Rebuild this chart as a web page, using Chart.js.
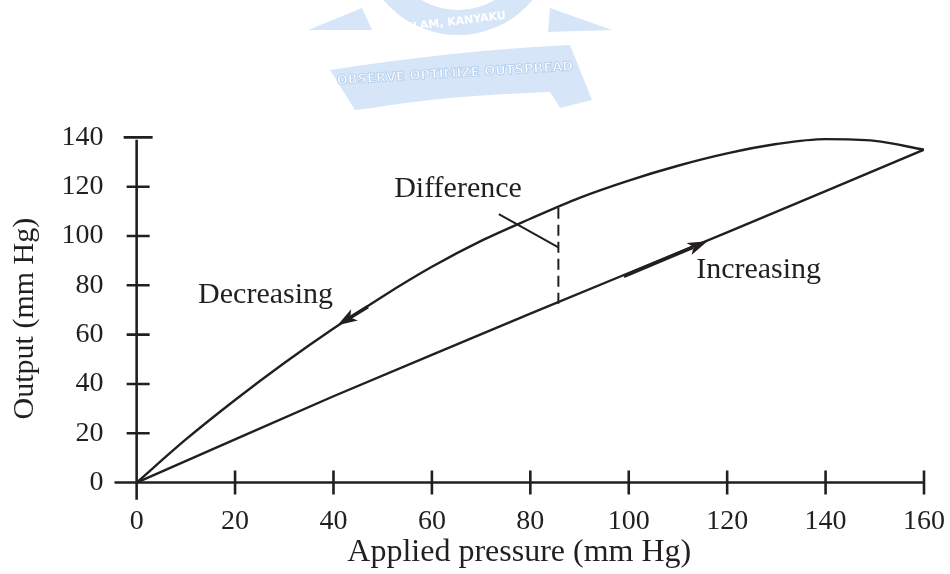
<!DOCTYPE html>
<html>
<head>
<meta charset="utf-8">
<script src="https://cdn.jsdelivr.net/npm/chart.js@4.4.0/dist/chart.umd.min.js"></script>
<style>
  html, body { margin: 0; background: #fff; }
  #wrap { width: 950px; height: 574px; }
</style>
</head>
<body>
<div id="wrap"><canvas id="grafico"></canvas></div>
<script>
// ticks
const xTicks = [0, 20, 40, 60, 80, 100, 120, 140, 160];
const yTicks = [0, 20, 40, 60, 80, 100, 120, 140];

// decreasing branch (upper curve)
const decX = [0, 10, 20, 30, 40, 50, 60, 70, 80, 90, 100, 110, 120, 130, 140, 150, 160];
const decY = [0, 17.5, 33.5, 48.5, 62.5, 75.5, 87.5, 98, 107, 115.5, 122.5, 128.5, 133.5, 137.3, 139.3, 138.6, 135];

// increasing branch (lower line)
const incX = [0, 40, 80, 120, 160];
const incY = [0, 35, 68.5, 101.5, 135];

// difference marker
const diffX = 85.7;
const diffTop = 111.5;
const diffBottom = 72.5;

const ink = '#231f20';
const serif = "'Liberation Serif', 'Times New Roman', serif";

function pares(xs, ys) {
    return xs.map((x, i) => ({ x: x, y: ys[i] }));
}

function seta(ctx, x1, y1, x2, y2, comp, larg) {
    const ang = Math.atan2(y2 - y1, x2 - x1);
    ctx.beginPath();
    ctx.moveTo(x2, y2);
    ctx.lineTo(x2 - comp * Math.cos(ang) + larg * Math.sin(ang), y2 - comp * Math.sin(ang) - larg * Math.cos(ang));
    ctx.lineTo(x2 - comp * 0.75 * Math.cos(ang), y2 - comp * 0.75 * Math.sin(ang));
    ctx.lineTo(x2 - comp * Math.cos(ang) - larg * Math.sin(ang), y2 - comp * Math.sin(ang) + larg * Math.cos(ang));
    ctx.closePath();
    ctx.fill();
}

// faint logo watermark at the top
const marcaDagua = {
    id: 'marcaDagua',
    beforeDraw(chart) {
        const ctx = chart.ctx;
        ctx.save();
        ctx.fillStyle = '#d6e6f8';
        // ring
        ctx.beginPath();
        ctx.arc(458, -62, 97, 0, Math.PI);
        ctx.arc(458, -62, 72, Math.PI, 0, true);
        ctx.fill();
        // wings
        ctx.beginPath();
        ctx.moveTo(308, 30); ctx.lineTo(362, 8); ctx.lineTo(372, 30); ctx.closePath();
        ctx.fill();
        ctx.beginPath();
        ctx.moveTo(550, 8); ctx.lineTo(612, 30); ctx.lineTo(548, 32); ctx.closePath();
        ctx.fill();
        // banner
        ctx.beginPath();
        ctx.moveTo(330, 70);
        ctx.quadraticCurveTo(460, 50, 570, 45);
        ctx.lineTo(592, 100);
        ctx.lineTo(560, 108);
        ctx.lineTo(550, 92);
        ctx.quadraticCurveTo(450, 95, 372, 108);
        ctx.lineTo(355, 110);
        ctx.closePath();
        ctx.fill();
        ctx.fillStyle = '#ffffff';
        ctx.strokeStyle = '#b7d1ef';
        ctx.lineWidth = 1;
        ctx.font = "bold 13px 'DejaVu Sans'";
        ctx.textAlign = 'center';
        ctx.textBaseline = 'middle';
        ctx.translate(455, 74);
        ctx.rotate(-0.06);
        ctx.fillText('OBSERVE OPTIMIZE OUTSPREAD', 0, 0);
        ctx.strokeText('OBSERVE OPTIMIZE OUTSPREAD', 0, 0);
        ctx.setTransform(1, 0, 0, 1, 0, 0);
        ctx.translate(455, 22);
        ctx.rotate(-0.12);
        ctx.font = "bold 11px 'DejaVu Sans'";
        ctx.fillText('ULAM, KANYAKU', 0, 0);
        ctx.restore();
    }
};

// axes with crossing ticks, arrows and labels
const desenho = {
    id: 'desenho',
    afterDatasetsDraw(chart) {
        const ctx = chart.ctx;
        const sx = chart.scales.x;
        const sy = chart.scales.y;
        const px = v => sx.getPixelForValue(v);
        const py = v => sy.getPixelForValue(v);
        ctx.save();
        ctx.strokeStyle = ink;
        ctx.fillStyle = ink;
        ctx.lineWidth = 2.6;
        ctx.lineCap = 'butt';

        // axis lines
        ctx.beginPath();
        ctx.moveTo(sx.left, py(0));
        ctx.lineTo(px(160), py(0));
        ctx.moveTo(px(0), sy.bottom);
        ctx.lineTo(px(0), py(139));
        ctx.stroke();

        // ticks
        ctx.beginPath();
        xTicks.forEach(v => {
            if (v === 0) return;
            ctx.moveTo(px(v), py(0) - 12);
            ctx.lineTo(px(v), py(0) + 12);
        });
        yTicks.forEach(v => {
            if (v === 0) return;
            const t = v === 140 ? 14 : 11;
            ctx.moveTo(px(0) - t + 1, py(v));
            ctx.lineTo(px(0) + t + 2, py(v));
        });
        ctx.stroke();

        // difference marker
        ctx.lineWidth = 2;
        ctx.setLineDash([11, 6]);
        ctx.beginPath();
        ctx.moveTo(px(diffX), py(diffTop));
        ctx.lineTo(px(diffX), py(diffBottom));
        ctx.stroke();
        ctx.setLineDash([]);
        ctx.beginPath();
        ctx.moveTo(px(73.6), py(108.9));
        ctx.lineTo(px(diffX), py(95.4));
        ctx.stroke();

        // arrows
        ctx.lineWidth = 3.6;
        ctx.beginPath();
        ctx.moveTo(px(47), py(71.3));
        ctx.lineTo(px(42.5), py(65.8));
        ctx.stroke();
        seta(ctx, px(47), py(71.3), px(40.8), py(63.8), 20, 6.5);

        ctx.beginPath();
        ctx.moveTo(px(99), py(83.6));
        ctx.lineTo(px(113), py(95.4));
        ctx.stroke();
        seta(ctx, px(99), py(83.6), px(116), py(97.9), 20, 6.5);

        // text labels
        ctx.font = '30px ' + serif;
        ctx.textAlign = 'center';
        ctx.textBaseline = 'middle';
        ctx.fillText('Difference', px(65.3), py(119));
        ctx.fillText('Decreasing', px(26.2), py(76));
        ctx.fillText('Increasing', px(126.4), py(86));
        ctx.restore();
    }
};

const grafico = document.getElementById('grafico');

const graficoHisterese = new Chart(grafico, {
    type: 'line',
    data: {
        datasets: [{
            label: 'Decreasing',
            data: pares(decX, decY),
            borderColor: ink,
            borderWidth: 2.4,
            pointRadius: 0,
            cubicInterpolationMode: 'monotone',
            fill: false
        }, {
            label: 'Increasing',
            data: pares(incX, incY),
            borderColor: ink,
            borderWidth: 2.4,
            pointRadius: 0,
            tension: 0.2,
            fill: false
        }]
    },
    options: {
        responsive: true,
        maintainAspectRatio: false,
        animation: false,
        layout: { padding: { top: 137.4, right: 24.5, left: 0, bottom: 0 } },
        plugins: {
            legend: { display: false },
            tooltip: { enabled: false }
        },
        scales: {
            x: {
                type: 'linear',
                min: -4.5,
                max: 160,
                afterBuildTicks: s => { s.ticks = xTicks.map(v => ({ value: v })); },
                afterFit: s => { s.height = 74.2; },
                grid: { display: false, drawTicks: false },
                border: { display: false },
                ticks: {
                    color: ink,
                    padding: 5,
                    maxRotation: 0,
                    font: { family: serif, size: 28 }
                },
                title: {
                    display: true,
                    text: 'Applied pressure (mm Hg)',
                    color: ink,
                    padding: { top: 0, bottom: 2 },
                    font: { family: serif, size: 32 }
                }
            },
            y: {
                type: 'linear',
                min: -7,
                max: 140,
                afterBuildTicks: s => { s.ticks = yTicks.map(v => ({ value: v })); },
                afterFit: s => { s.width = 114.5; },
                grid: { display: false, drawTicks: false },
                border: { display: false },
                ticks: {
                    color: ink,
                    padding: 11,
                    font: { family: serif, size: 28 }
                },
                title: {
                    display: true,
                    text: 'Output (mm Hg)',
                    color: ink,
                    padding: { top: 7, bottom: 0 },
                    font: { family: serif, size: 30 }
                }
            }
        }
    },
    plugins: [marcaDagua, desenho]
});
</script>
</body>
</html>
